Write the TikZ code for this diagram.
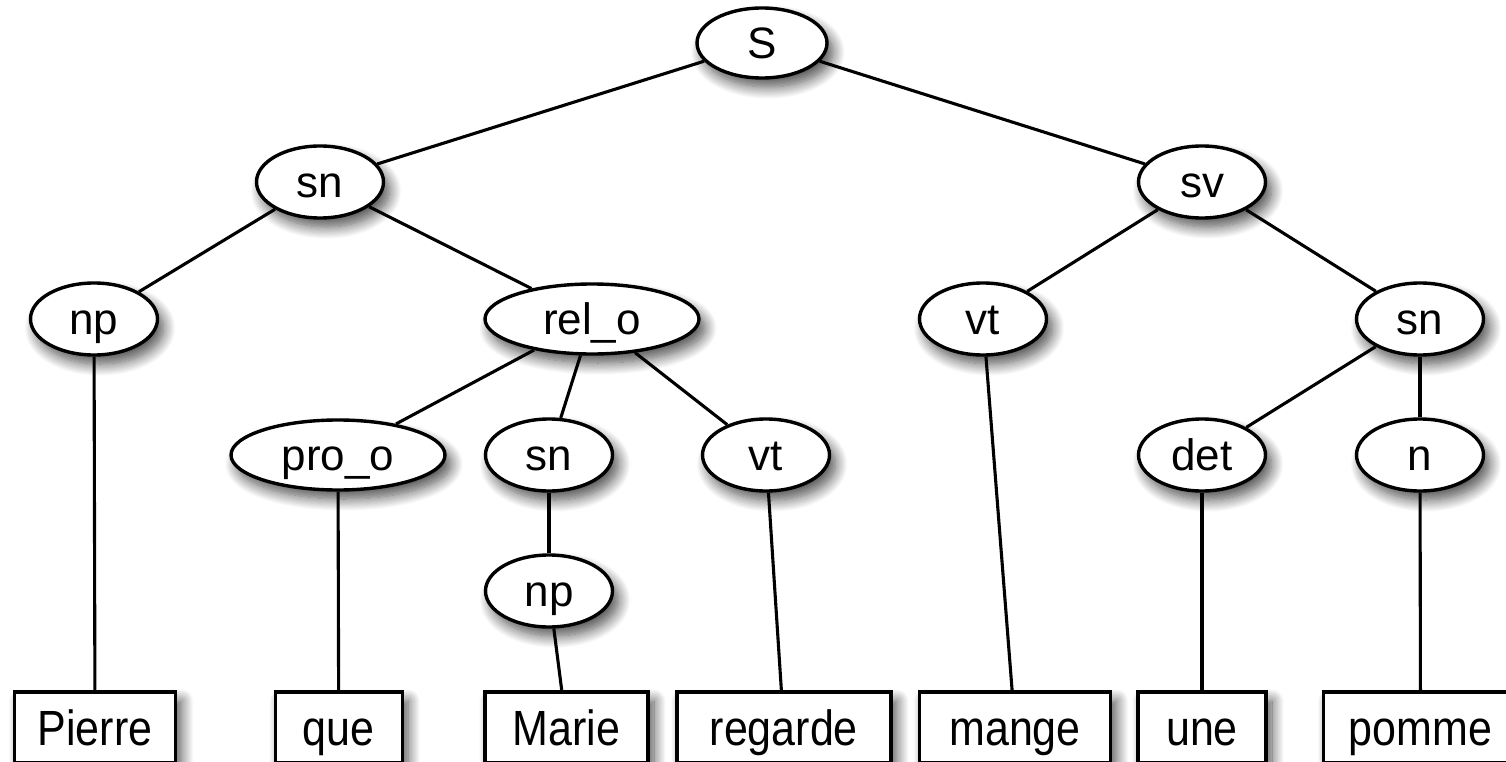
\documentclass[tikz,border=0pt]{standalone}
\usepackage{fontspec}
\setmainfont{Liberation Sans}
\usetikzlibrary{shapes.geometric,shadows.blur}
% word labels are set slightly taller than wide
\newcommand{\stretchlabel}[1]{\scalebox{1}[1.15]{#1}}
\tikzset{
  soft/.style={blur shadow={shadow xshift=6pt,shadow yshift=-9pt,
      shadow blur radius=12pt,shadow blur steps=14,shadow opacity=70}},
  cat/.style={ellipse, draw, line width=3.4pt, fill=white, inner sep=0pt,
      minimum width=127pt, minimum height=72pt,
      text height=31pt, text depth=0pt,
      font=\fontsize{44}{44}\selectfont, soft},
  widecat/.style={cat, minimum width=214pt, minimum height=70pt},
  word/.style={rectangle, draw, line width=3.4pt, fill=white, inner sep=0pt,
      minimum height=71pt, text height=35pt, text depth=0pt,
      font=\fontsize{43}{43}\selectfont, soft},
  edge/.style={line width=3.1pt}
}
\begin{document}
\begin{tikzpicture}[x=1pt,y=-1pt]
\useasboundingbox (0,0) rectangle (1506,762);

% category nodes
\node[cat, minimum width=130pt, minimum height=70pt] (S) at (762,43) {S};
\node[cat] (sn1) at (320,182) {sn};
\node[cat] (sv) at (1202,182) {sv};
\node[cat] (np1) at (94,319) {np};
\node[widecat] (relo) at (592,319) {rel\_o};
\node[cat] (vt1) at (983,319) {vt};
\node[cat] (sn2) at (1420,319) {sn};
\node[widecat] (proo) at (338,455) {pro\_o};
\node[cat] (sn3) at (549,455) {sn};
\node[cat] (vt2) at (766,455) {vt};
\node[cat] (det) at (1202,455) {det};
\node[cat] (n) at (1420,455) {n};
\node[cat] (np2) at (549,591) {np};

% words
\node[word, minimum width=161pt] (w1) at (95,727.5) {\stretchlabel{Pierre}};
\node[word, minimum width=127pt] (w2) at (338.7,727.5) {\stretchlabel{que}};
\node[word, minimum width=163pt] (w3) at (566.5,727.5) {\stretchlabel{Marie}};
\node[word, minimum width=214pt] (w4) at (783.8,727.5) {\stretchlabel{regarde}};
\node[word, minimum width=191pt] (w5) at (1015,727.5) {\stretchlabel{mange}};
\node[word, minimum width=128pt] (w6) at (1202,727.5) {\stretchlabel{une}};
\node[word, minimum width=194pt] (w7) at (1420.5,727.5) {\stretchlabel{pomme}};

% branches
\draw[edge] (S) -- (sn1);
\draw[edge] (S) -- (sv);
\draw[edge] (sn1) -- (np1);
\draw[edge] (sn1) -- (relo);
\draw[edge] (sv) -- (vt1);
\draw[edge] (sv) -- (sn2);
\draw[edge] (relo) -- (proo);
\draw[edge] (relo) -- (sn3);
\draw[edge] (relo) -- (vt2);
\draw[edge] (sn2) -- (det);
\draw[edge] (sn2) -- (n);
\draw[edge] (sn3) -- (np2);
\draw[edge] (np1) -- (w1);
\draw[edge] (proo) -- (w2);
\draw[edge] (np2) -- (w3);
\draw[edge] (vt2) -- (w4);
\draw[edge] (vt1) -- (w5);
\draw[edge] (det) -- (w6);
\draw[edge] (n) -- (w7);
\end{tikzpicture}
\end{document}
